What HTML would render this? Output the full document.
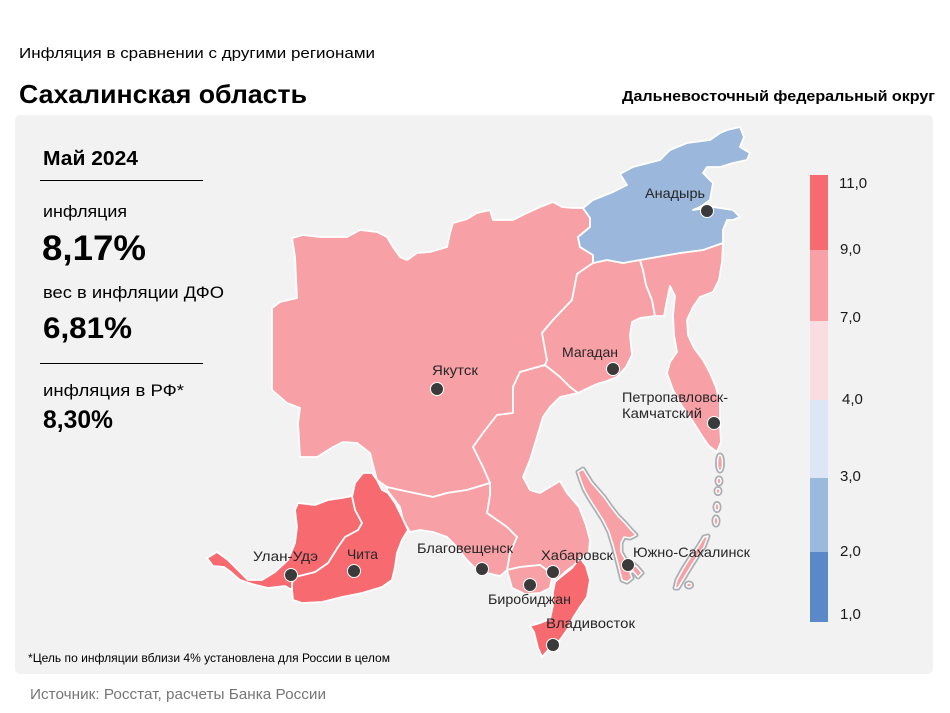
<!DOCTYPE html>
<html><head><meta charset="utf-8"><style>
html,body{margin:0;padding:0;background:#fff;}
svg{display:block;}
text{font-family:"Liberation Sans","Noto Sans CJK SC",sans-serif;}
</style></head><body>
<svg width="950" height="713" viewBox="0 0 950 713" xmlns="http://www.w3.org/2000/svg">
<rect x="0" y="0" width="950" height="713" fill="#ffffff"/>
<text x="19" y="58" font-size="15" fill="#000" textLength="356" lengthAdjust="spacingAndGlyphs">Инфляция  в сравнении  с другими  регионами</text>
<text x="19" y="103" font-size="26" font-weight="bold" fill="#000" textLength="288" lengthAdjust="spacingAndGlyphs">Сахалинская область</text>
<text x="622" y="101" font-size="15" font-weight="bold" fill="#000" textLength="313" lengthAdjust="spacingAndGlyphs">Дальневосточный федеральный округ</text>

<rect x="15" y="115" width="918" height="559" rx="5" fill="#f2f2f2"/>

<text x="43" y="165" font-size="20" font-weight="bold" fill="#000" textLength="95" lengthAdjust="spacingAndGlyphs">Май 2024</text>
<line x1="40" y1="180.5" x2="203" y2="180.5" stroke="#000" stroke-width="1"/>
<text x="43" y="217" font-size="17" fill="#000" textLength="84" lengthAdjust="spacingAndGlyphs">инфляция</text>
<text x="42" y="260" font-size="35" font-weight="bold" fill="#000" textLength="104" lengthAdjust="spacingAndGlyphs">8,17%</text>
<text x="43" y="298" font-size="17" fill="#000" textLength="181" lengthAdjust="spacingAndGlyphs">вес в инфляции  ДФО</text>
<text x="43" y="338" font-size="30" font-weight="bold" fill="#000" textLength="89" lengthAdjust="spacingAndGlyphs">6,81%</text>
<line x1="40" y1="363.5" x2="203" y2="363.5" stroke="#000" stroke-width="1"/>
<text x="43" y="396" font-size="17" fill="#000" textLength="141" lengthAdjust="spacingAndGlyphs">инфляция  в РФ*</text>
<text x="43" y="428" font-size="25" font-weight="bold" fill="#000" textLength="70" lengthAdjust="spacingAndGlyphs">8,30%</text>

<g stroke="#ffffff" stroke-width="1.8" stroke-linejoin="round">
<!-- Yakutia -->
<path fill="#f7a1a6" d="M292,238 L303,235 L320,237 L347,237 L360,230 L377,232 L387,237 L393,247 L400,257 L407,260 L417,253 L430,252 L447,247 L450,233 L453,223 L467,219 L477,213 L490,210 L493,220 L513,220 L527,213 L540,207 L553,202 L562,207 L573,208 L583,208 L590,218 L590,227 L578,237 L580,247 L593,255 L593,263 L577,274 L572,300 L553,320 L542,333 L547,360 L545,365 L520,372 L513,387 L513,413 L497,415 L483,433 L473,447 L483,467 L490,483 L467,490 L447,493 L433,497 L400,490 L387,487 L377,480 L373,465 L370,453 L357,443 L343,442 L333,447 L317,457 L300,457 L298,423 L300,408 L287,403 L272,390 L272,350 L272,308 L280,302 L297,298 L295,257 Z"/>
<!-- Magadan -->
<path fill="#f7a1a6" d="M593,263 L607,260 L623,263 L640,260 L643,270 L646,285 L652,300 L655,316 L640,318 L632,322 L630,335 L632,355 L626,367 L617,377 L607,381 L597,384 L582,391 L578,393 L570,387 L560,377 L545,365 L547,360 L542,333 L553,320 L572,300 L577,274 Z"/>
<!-- Kamchatka -->
<path fill="#f7a1a6" d="M640,260 L657,257 L680,253 L703,250 L723,243 L722,262 L719,280 L713,292 L700,297 L693,307 L687,320 L688,335 L694,348 L703,360 L710,373 L716,387 L720,403 L720,425 L721,442 L717,452 L709,446 L702,436 L692,420 L682,406 L673,390 L667,373 L670,362 L677,352 L674,335 L673,315 L675,296 L670,286 L667,300 L664,316 L655,316 L652,300 L646,285 L643,270 Z"/>
<!-- Chukotka -->
<path fill="#9bb8dc" d="M583,208 L593,200 L613,192 L627,185 L620,174 L633,167 L660,160 L670,150 L687,143 L710,140 L720,133 L727,130 L740,127 L744,137 L740,147 L750,153 L747,160 L733,163 L720,167 L707,167 L703,173 L713,183 L710,200 L700,207 L693,210 L713,207 L733,210 L740,217 L733,220 L727,220 L723,230 L723,243 L703,250 L680,253 L657,257 L640,260 L623,263 L607,260 L593,263 L593,255 L580,247 L578,237 L590,227 L590,218 Z"/>
<!-- Khabarovsk -->
<path fill="#f7a1a6" d="M545,365 L520,372 L513,387 L513,413 L497,415 L483,433 L473,447 L483,467 L490,483 L490,495 L487,513 L507,527 L517,537 L510,553 L507,570 L520,567 L540,565 L547,570 L552,578 L557,580 L565,572 L577,563 L583,557 L589,552 L590,540 L586,525 L579,507 L567,493 L560,481 L550,487 L540,493 L530,490 L523,477 L530,460 L537,437 L543,417 L550,407 L560,397 L578,393 L570,387 L560,377 Z"/>
<!-- Amur -->
<path fill="#f7a1a6" d="M387,487 L400,490 L433,497 L447,493 L467,490 L490,483 L490,495 L487,513 L507,527 L517,537 L510,553 L507,570 L500,576 L487,573 L477,570 L467,560 L457,547 L447,537 L433,532 L420,530 L410,532 L403,520 L400,507 L387,490 Z"/>
<!-- Jewish AO -->
<path fill="#f7a1a6" d="M507,570 L520,567 L540,565 L547,570 L552,578 L550,588 L540,593 L525,594 L512,588 Z"/>
<!-- Primorsky -->
<path fill="#f76b70" d="M580,558 L586,566 L590,580 L587,597 L580,607 L573,618 L567,630 L560,640 L550,648 L542,657 L538,648 L534,632 L530,626 L540,623 L550,619 L553,605 L553,592 L555,582 L562,576 L572,568 Z"/>
<!-- Zabaykalsky -->
<path fill="#f76b70" d="M363,473 L372,473 L377,480 L382,490 L388,493 L395,503 L402,517 L408,530 L402,540 L397,553 L395,567 L392,580 L382,587 L362,593 L342,597 L322,602 L302,603 L293,600 L292,590 L292,583 L295,577 L315,572 L328,563 L338,547 L345,537 L358,530 L362,523 L355,510 L352,497 L355,483 Z"/>
<!-- Buryatia -->
<path fill="#f76b70" d="M207,558 L217,552 L228,560 L238,570 L248,580 L262,580 L275,572 L288,560 L295,543 L297,527 L295,510 L298,503 L315,505 L328,500 L342,498 L352,496 L355,510 L362,523 L358,530 L345,537 L338,547 L328,563 L315,572 L295,577 L292,583 L292,590 L285,586 L268,588 L252,584 L240,580 L232,573 L224,567 L213,566 Z"/>
</g>

<!-- Sakhalin & Kurils with gray glow -->
<g stroke="#a3a7ac" stroke-width="5" stroke-linejoin="round" fill="none" opacity="0.9">
<path d="M578,472 L583,469 L588,477 L591,482 L597,489 L604,497 L611,507 L618,516 L625,523 L631,530 L636,535 L630,538 L624,537 L621,543 L621,552 L625,559 L632,563 L637,567 L642,573 L638,577 L633,571 L630,573 L632,578 L627,582 L622,580 L620,572 L617,560 L613,545 L609,532 L603,520 L596,509 L589,498 L584,489 L581,481 Z"/>
<path d="M708,536 L704,547 L697,557 L690,568 L684,578 L678,588 L675,588 L677,580 L683,569 L690,558 L698,547 L704,537 Z"/>
<ellipse cx="689" cy="585" rx="2.5" ry="2"/>
<ellipse cx="720" cy="463" rx="2.5" ry="8"/>
<ellipse cx="719" cy="481" rx="2" ry="3"/>
<ellipse cx="718" cy="491" rx="2" ry="2.5"/>
<ellipse cx="717" cy="507" rx="2" ry="3.5"/>
<ellipse cx="716" cy="521" rx="2" ry="4"/>
</g>
<g stroke="#ffffff" stroke-width="1.5" stroke-linejoin="round" fill="#f7a1a6">
<path d="M578,472 L583,469 L588,477 L591,482 L597,489 L604,497 L611,507 L618,516 L625,523 L631,530 L636,535 L630,538 L624,537 L621,543 L621,552 L625,559 L632,563 L637,567 L642,573 L638,577 L633,571 L630,573 L632,578 L627,582 L622,580 L620,572 L617,560 L613,545 L609,532 L603,520 L596,509 L589,498 L584,489 L581,481 Z"/>
<path d="M708,536 L704,547 L697,557 L690,568 L684,578 L678,588 L675,588 L677,580 L683,569 L690,558 L698,547 L704,537 Z"/>
<ellipse cx="689" cy="585" rx="2.5" ry="2"/>
<ellipse cx="720" cy="463" rx="2.5" ry="8"/>
<ellipse cx="719" cy="481" rx="2" ry="3"/>
<ellipse cx="718" cy="491" rx="2" ry="2.5"/>
<ellipse cx="717" cy="507" rx="2" ry="3.5"/>
<ellipse cx="716" cy="521" rx="2" ry="4"/>
</g>

<!-- City dots -->
<g fill="#3a3a3a" stroke="#ffffff" stroke-width="1">
<circle cx="707" cy="211" r="6.5"/>
<circle cx="437" cy="389" r="6.5"/>
<circle cx="613" cy="369" r="6.5"/>
<circle cx="714" cy="423" r="6.5"/>
<circle cx="553" cy="572" r="6.5"/>
<circle cx="628" cy="565" r="6.5"/>
<circle cx="530" cy="585" r="6.5"/>
<circle cx="553" cy="645" r="6.5"/>
<circle cx="482" cy="569" r="6.5"/>
<circle cx="291" cy="575" r="6.5"/>
<circle cx="354" cy="571" r="6.5"/>
</g>

<!-- City labels -->
<g font-size="14" fill="#262626">
<text x="645" y="198" textLength="60" lengthAdjust="spacingAndGlyphs">Анадырь</text>
<text x="432" y="375" textLength="46" lengthAdjust="spacingAndGlyphs">Якутск</text>
<text x="562" y="357" textLength="56" lengthAdjust="spacingAndGlyphs">Магадан</text>
<text x="622" y="402" textLength="106" lengthAdjust="spacingAndGlyphs">Петропавловск-</text>
<text x="622" y="418" textLength="80" lengthAdjust="spacingAndGlyphs">Камчатский</text>
<text x="541" y="560" textLength="72" lengthAdjust="spacingAndGlyphs">Хабаровск</text>
<text x="633" y="557" textLength="117" lengthAdjust="spacingAndGlyphs">Южно-Сахалинск</text>
<text x="488" y="604" textLength="83" lengthAdjust="spacingAndGlyphs">Биробиджан</text>
<text x="546" y="628" textLength="89" lengthAdjust="spacingAndGlyphs">Владивосток</text>
<text x="417" y="553" textLength="96" lengthAdjust="spacingAndGlyphs">Благовещенск</text>
<text x="253" y="561" textLength="65" lengthAdjust="spacingAndGlyphs">Улан-Удэ</text>
<text x="347" y="559" textLength="31" lengthAdjust="spacingAndGlyphs">Чита</text>
</g>

<!-- Legend -->
<rect x="810" y="175" width="18" height="75" fill="#f76a6f"/>
<rect x="810" y="250" width="18" height="71" fill="#f7a0a5"/>
<rect x="810" y="321" width="18" height="79" fill="#fadde0"/>
<rect x="810" y="400" width="18" height="78" fill="#dce6f4"/>
<rect x="810" y="478" width="18" height="74" fill="#9bb8dd"/>
<rect x="810" y="552" width="18" height="70" fill="#5b88c6"/>
<g font-size="15" fill="#1a1a1a">
<text x="839" y="188">11,0</text>
<text x="840" y="254">9,0</text>
<text x="840" y="322">7,0</text>
<text x="842" y="404">4,0</text>
<text x="840" y="481">3,0</text>
<text x="840" y="556">2,0</text>
<text x="840" y="619">1,0</text>
</g>

<text x="28" y="662" font-size="12" fill="#000" textLength="362" lengthAdjust="spacingAndGlyphs">*Цель по инфляции вблизи 4% установлена для России в целом</text>
<text x="30" y="699" font-size="15" fill="#767676" textLength="296" lengthAdjust="spacingAndGlyphs">Источник: Росстат, расчеты  Банка  России</text>
</svg>
</body></html>
